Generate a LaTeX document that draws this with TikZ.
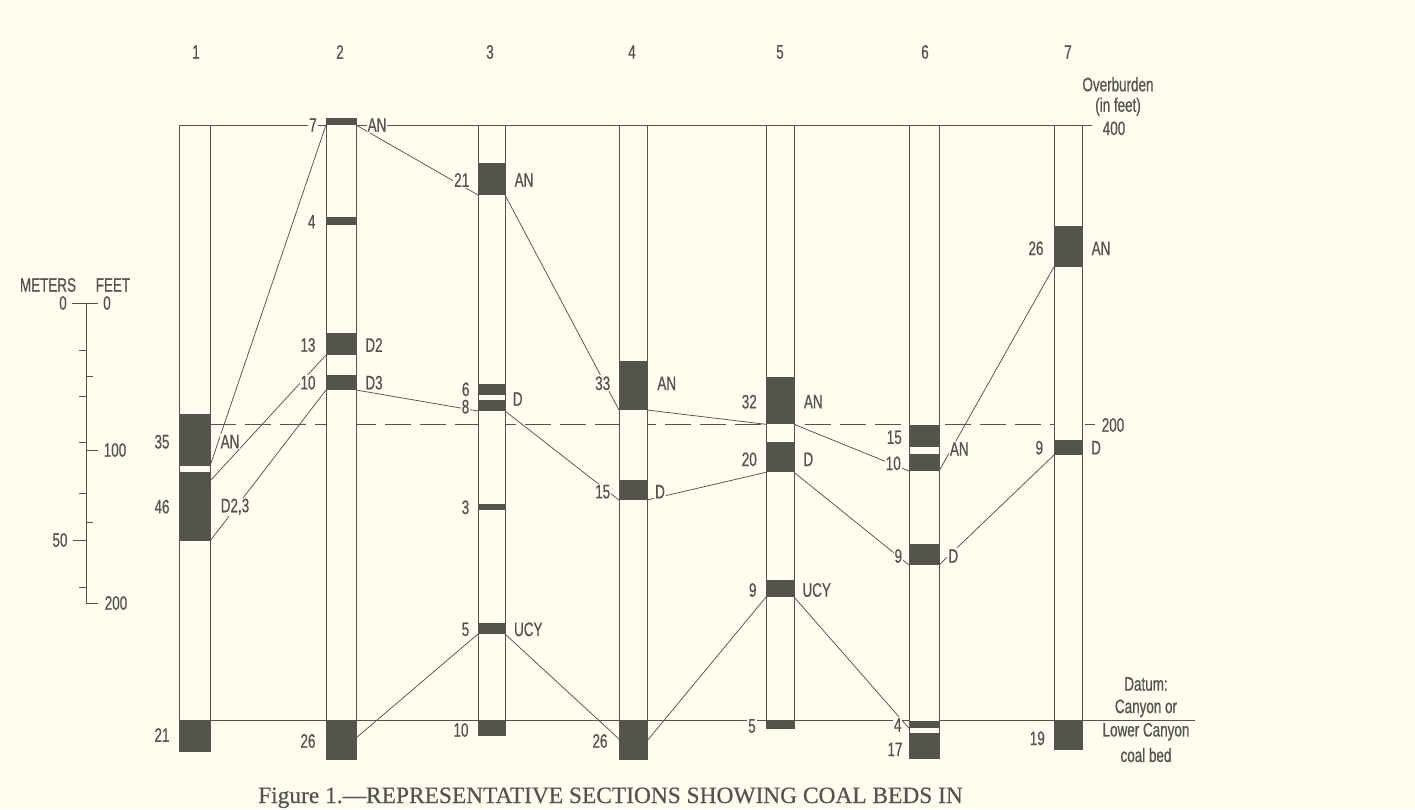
\documentclass[tikz,border=0pt]{standalone}
\usepackage{fontspec}
\setmainfont{Liberation Sans}[FakeStretch=0.69,FakeBold=0.6]
\newfontfamily\capfont{Liberation Serif}[FakeBold=0.5]
\definecolor{bg}{HTML}{FEFDF0}
\definecolor{ink}{HTML}{55544C}
\newcommand\bed[5]{%
  \fill[ink] (#2,#4) rectangle (#3,#5);
  \coordinate (#1l) at (#2,#5);
  \coordinate (#1r) at (#3,#5);}
\newcommand\colbox[5]{%
  \draw[colline] (#2,#4) rectangle (#3,#5);
  \coordinate (#1) at ({(#2+#3)/2},#4);}
\begin{document}
\begin{tikzpicture}[x=1pt,y=-1pt,
  every node/.style={text=ink},
  txt/.style={font=\fontsize{19.5}{21}\selectfont, inner sep=1pt},
  lab/.style={txt, fill=bg},
  colline/.style={draw=ink, fill=bg, line width=1pt},
  corr/.style={draw=ink, line width=0.75pt},
  level/.style={draw=ink, line width=0.85pt},
  scl/.style={draw=ink, line width=0.85pt}]
\fill[bg] (0,0) rectangle (1415,809);
\useasboundingbox (0,0) rectangle (1415,809);

% reference levels
\coordinate (topL) at (179,125);
\coordinate (topR) at (1092,125);
\coordinate (midL) at (210,424);
\coordinate (midR) at (1095,424);
\coordinate (datL) at (179,720);
\coordinate (datR) at (1195,720);
\draw[level, dash pattern=on 26pt off 9pt] (midL) -- (midR);
\draw[level] (datL) -- (datR);
\draw[level] (topL) -- (topR);

% columns
\colbox{col1}{179}{210}{125}{751.5}
\colbox{col2}{326}{356}{118}{759}
\colbox{col3}{478}{505}{125}{735.5}
\colbox{col4}{619}{647}{125}{759}
\colbox{col5}{766}{794}{125}{728.5}
\colbox{col6}{909}{939}{125}{758.5}
\colbox{col7}{1054}{1082}{125}{749}

% coal beds
\bed{c1an}{179}{210}{413.5}{466}
\bed{c1d}{179}{210}{472}{541}
\bed{c1b}{179}{210}{720}{751.5}
\bed{c2an}{326}{356}{118}{125}
\bed{c2a4}{326}{356}{217}{225}
\bed{c2d2}{326}{356}{333}{355}
\bed{c2d3}{326}{356}{374.5}{390}
\bed{c2b}{326}{356}{720}{759}
\bed{c3an}{478}{505}{162.5}{195}
\bed{c3a6}{478}{505}{384}{395}
\bed{c3d}{478}{505}{399.5}{411}
\bed{c3a3}{478}{505}{503.5}{510}
\bed{c3u}{478}{505}{623}{634}
\bed{c3b}{478}{505}{720}{735.5}
\bed{c4an}{619}{647}{361}{410}
\bed{c4d}{619}{647}{479.5}{500}
\bed{c4b}{619}{647}{720}{759}
\bed{c5an}{766}{794}{377}{424.3}
\bed{c5d}{766}{794}{442}{472.3}
\bed{c5u}{766}{794}{580}{597}
\bed{c5b}{766}{794}{720}{728.5}
\bed{c6a15}{909}{939}{425}{447.3}
\bed{c6an}{909}{939}{453.5}{471}
\bed{c6d}{909}{939}{544}{565}
\bed{c6b4}{909}{939}{721}{728.3}
\bed{c6b}{909}{939}{733.3}{758.5}
\bed{c7an}{1054}{1082}{225.7}{266.7}
\bed{c7d}{1054}{1082}{439.5}{455}
\bed{c7b}{1054}{1082}{720}{749}

% extra attachment points
\coordinate (c1d2) at (210,481);
\coordinate (c2bm) at (356,738);
\coordinate (c4bml) at (619,739);
\coordinate (c4bmr) at (647,741);

% correlation lines
\draw[corr] (c2anl) -- (c1anr);
\draw[corr] (c2d2l) -- (c1d2);
\draw[corr] (c2d3l) -- (c1dr);
\draw[corr] (c2anr) -- (c3anl);
\draw[corr] (c3anr) -- (c4anl);
\draw[corr] (c2d3r) -- (c3dl);
\draw[corr] (c3dr) -- (c4dl);
\draw[corr] (c4anr) -- (c5anl);
\draw[corr] (c4dr) -- (c5dl);
\draw[corr] (c5anr) -- (c6anl);
\draw[corr] (c5dr) -- (c6dl);
\draw[corr] (c6anr) -- (c7anl);
\draw[corr] (c6dr) -- (c7dl);
\draw[corr] (c2bm) -- (c3ul);
\draw[corr] (c3ur) -- (c4bml);
\draw[corr] (c4bmr) -- (c5ul);
\draw[corr] (c5ur) -- (c6b4l);

% column numbers
\node[txt] (n1) at (196,52) {1};
\node[txt] (n2) at (340,52) {2};
\node[txt] (n3) at (490,52) {3};
\node[txt] (n4) at (632,52) {4};
\node[txt] (n5) at (780,52) {5};
\node[txt] (n6) at (925,52) {6};
\node[txt] (n7) at (1068,52) {7};

% column 1 labels
\node[lab] (l1a) at (162,441.7) {35};
\node[lab] (l1b) at (162,506.7) {46};
\node[lab] (l1c) at (230,441.7) {AN};
\node[lab] (l1d) at (235,506.7) {D2,3};
\node[lab] (l1e) at (162,735) {21};
% column 2 labels
\node[lab] (l2a) at (313,125) {7};
\node[lab] (l2b) at (377,125) {AN};
\node[lab] (l2c) at (311.7,221.7) {4};
\node[lab] (l2d) at (308,345) {13};
\node[lab] (l2e) at (374,345) {D2};
\node[lab] (l2f) at (308,382.7) {10};
\node[lab] (l2g) at (374,382.7) {D3};
\node[lab] (l2h) at (308,741) {26};
% column 3 labels
\node[lab] (l3a) at (461.7,180) {21};
\node[lab] (l3b) at (524,180) {AN};
\node[lab] (l3c) at (465.7,389.3) {6};
\node[lab] (l3d) at (465.5,406.7) {8};
\node[lab] (l3e) at (517.7,399) {D};
\node[lab] (l3f) at (465.5,507.3) {3};
\node[lab] (l3g) at (465.5,629.3) {5};
\node[lab] (l3h) at (528.3,629.3) {UCY};
\node[lab] (l3i) at (461,730) {10};
% column 4 labels
\node[lab] (l4a) at (602.7,383.3) {33};
\node[lab] (l4b) at (666.7,383.3) {AN};
\node[lab] (l4c) at (602.7,491.7) {15};
\node[lab] (l4d) at (660,491.7) {D};
\node[lab] (l4e) at (600,741) {26};
% column 5 labels
\node[lab] (l5a) at (749.3,401.7) {32};
\node[lab] (l5b) at (813.3,401.7) {AN};
\node[lab] (l5c) at (749.3,459.3) {20};
\node[lab] (l5d) at (808.3,459.3) {D};
\node[lab] (l5e) at (752.7,590) {9};
\node[lab] (l5f) at (816.7,590) {UCY};
\node[lab] (l5g) at (752,726) {5};
% column 6 labels
\node[lab] (l6a) at (894.3,437.3) {15};
\node[lab] (l6b) at (893.3,463.3) {10};
\node[lab] (l6c) at (959.3,449) {AN};
\node[lab] (l6d) at (898.3,556) {9};
\node[lab] (l6e) at (953.3,556) {D};
\node[lab] (l6f) at (897.7,725) {4};
\node[lab] (l6g) at (895,749.3) {17};
% column 7 labels
\node[lab] (l7a) at (1036,248.3) {26};
\node[lab] (l7b) at (1101,248.3) {AN};
\node[lab] (l7c) at (1039.3,447.7) {9};
\node[lab] (l7d) at (1096,447.7) {D};
\node[lab] (l7e) at (1037.3,738.3) {19};

% overburden labels
\node[txt] (ob1) at (1118,84.3) {Overburden};
\node[txt] (ob2) at (1118,106.7) {(in feet)};
\node[txt] (ob3) at (1114,128.3) {400};
\node[txt] (ob4) at (1113,425) {200};
\node[txt] (dt1) at (1146,684) {Datum:};
\node[txt] (dt2) at (1146,708.3) {Canyon or};
\node[txt] (dt3) at (1146,731.7) {Lower Canyon};
\node[txt] (dt4) at (1146,755) {coal bed};

% scale bar
\coordinate (s0) at (86,303);
\coordinate (s200) at (86,603);
\coordinate (s200r) at (98,603);
\draw[scl] (s0) -- (s200) -- (s200r);
\draw[scl] (72,303) -- (98,303);
\foreach \y in {350,396.7,442.7,493.3,587.7} \draw[scl] (79,\y) -- (86,\y);
\draw[scl] (72.5,540) -- (86,540);
\foreach \y in {376.7,522.3} \draw[scl] (86,\y) -- (92.7,\y);
\draw[scl] (86,450) -- (98,450);
\node[txt] (sm) at (48,285) {METERS};
\node[txt] (sf) at (113,285) {FEET};
\node[txt] (sm0) at (63,303) {0};
\node[txt] (sf0) at (107,303) {0};
\node[txt] (sf100) at (115,450) {100};
\node[txt] (sm50) at (60,540) {50};
\node[txt] (sf200) at (116,603) {200};

% caption
\node[text=ink, font=\capfont\fontsize{23.4}{26}\selectfont, inner sep=0pt, anchor=base west] (cap) at (258,803) {Figure 1.—REPRESENTATIVE SECTIONS SHOWING COAL BEDS IN};
\end{tikzpicture}
\end{document}
